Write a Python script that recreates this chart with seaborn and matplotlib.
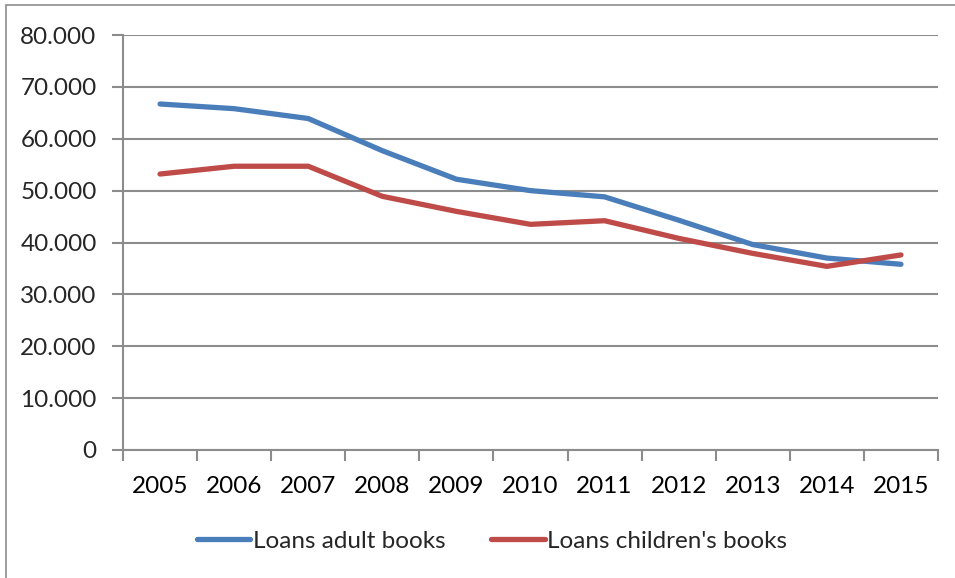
import matplotlib
matplotlib.use("Agg")
import matplotlib.pyplot as plt
import seaborn as sns
import pandas as pd
from matplotlib.patches import Rectangle
from matplotlib.lines import Line2D

years = ["2005", "2006", "2007", "2008", "2009", "2010", "2011", "2012", "2013", "2014", "2015"]
adult = [66700, 65800, 63900, 57700, 52200, 50000, 48800, 44300, 39600, 37000, 35800]
children = [53200, 54700, 54700, 48900, 46000, 43500, 44200, 40800, 37900, 35400, 37600]
series_names = ["Loans adult books", "Loans children's books"]
y_ticks = [0, 10000, 20000, 30000, 40000, 50000, 60000, 70000, 80000]
y_labels = ["0", "10.000", "20.000", "30.000", "40.000", "50.000", "60.000", "70.000", "80.000"]
colors = ["#4A7EBB", "#BE4B48"]

df = pd.DataFrame({
    "x": list(range(len(years))) * 2,
    "value": adult + children,
    "series": [series_names[0]] * len(years) + [series_names[1]] * len(years),
})

sns.set_theme(style="white")
plt.rcParams["font.family"] = ["Lato", "DejaVu Sans"]

W, H = 955, 578
fs = 17.5
fig = plt.figure(figsize=(W / 100, H / 100), dpi=100)
ax = fig.add_axes([123 / W, 1 - 450 / H, (938 - 123) / W, (450 - 35) / H])

sns.lineplot(data=df, x="x", y="value", hue="series", palette=colors,
             linewidth=3.8, ax=ax, legend=False, zorder=3,
             solid_capstyle="round", solid_joinstyle="round")

ax.set_xlim(-0.5, len(years) - 0.5)
ax.set_ylim(0, 80000)
ax.set_yticks(y_ticks)
ax.set_yticklabels(y_labels, fontsize=fs)
ax.set_xticks(range(len(years)))
ax.set_xticklabels(years, fontsize=fs)
ax.set_xticks([i - 0.5 for i in range(len(years) + 1)], minor=True)
ax.tick_params(axis="x", which="major", length=0, pad=19, colors="black")
ax.tick_params(axis="x", which="minor", length=8, width=1.5, color="#8c8c8c", direction="out", bottom=True)
ax.tick_params(axis="y", which="major", length=8, width=1.5, color="#8c8c8c", direction="out", left=True, pad=11)
ax.set_xlabel("")
ax.set_ylabel("")
ax.grid(axis="y", color="#8c8c8c", linewidth=1.5, zorder=0)
ax.set_axisbelow(True)
for s in ["top", "right"]:
    ax.spines[s].set_visible(False)
for s in ["left", "bottom"]:
    ax.spines[s].set_color("#8c8c8c")
    ax.spines[s].set_linewidth(1.5)

handles = [Line2D([0], [0], color=c, linewidth=3.8) for c in colors]
fig.legend(handles, series_names, loc="center", bbox_to_anchor=(492 / W, 1 - 541 / H),
           ncol=2, frameon=False, fontsize=fs, handlelength=2.2, handletextpad=0.1,
           columnspacing=1.9)

fig.patches.append(Rectangle((6 / W, -0.1), 1.1, 1 - 5 / H + 0.1, transform=fig.transFigure,
                             fill=False, edgecolor="#8c8c8c", linewidth=1.2))

fig.savefig("out.png", dpi=100)
